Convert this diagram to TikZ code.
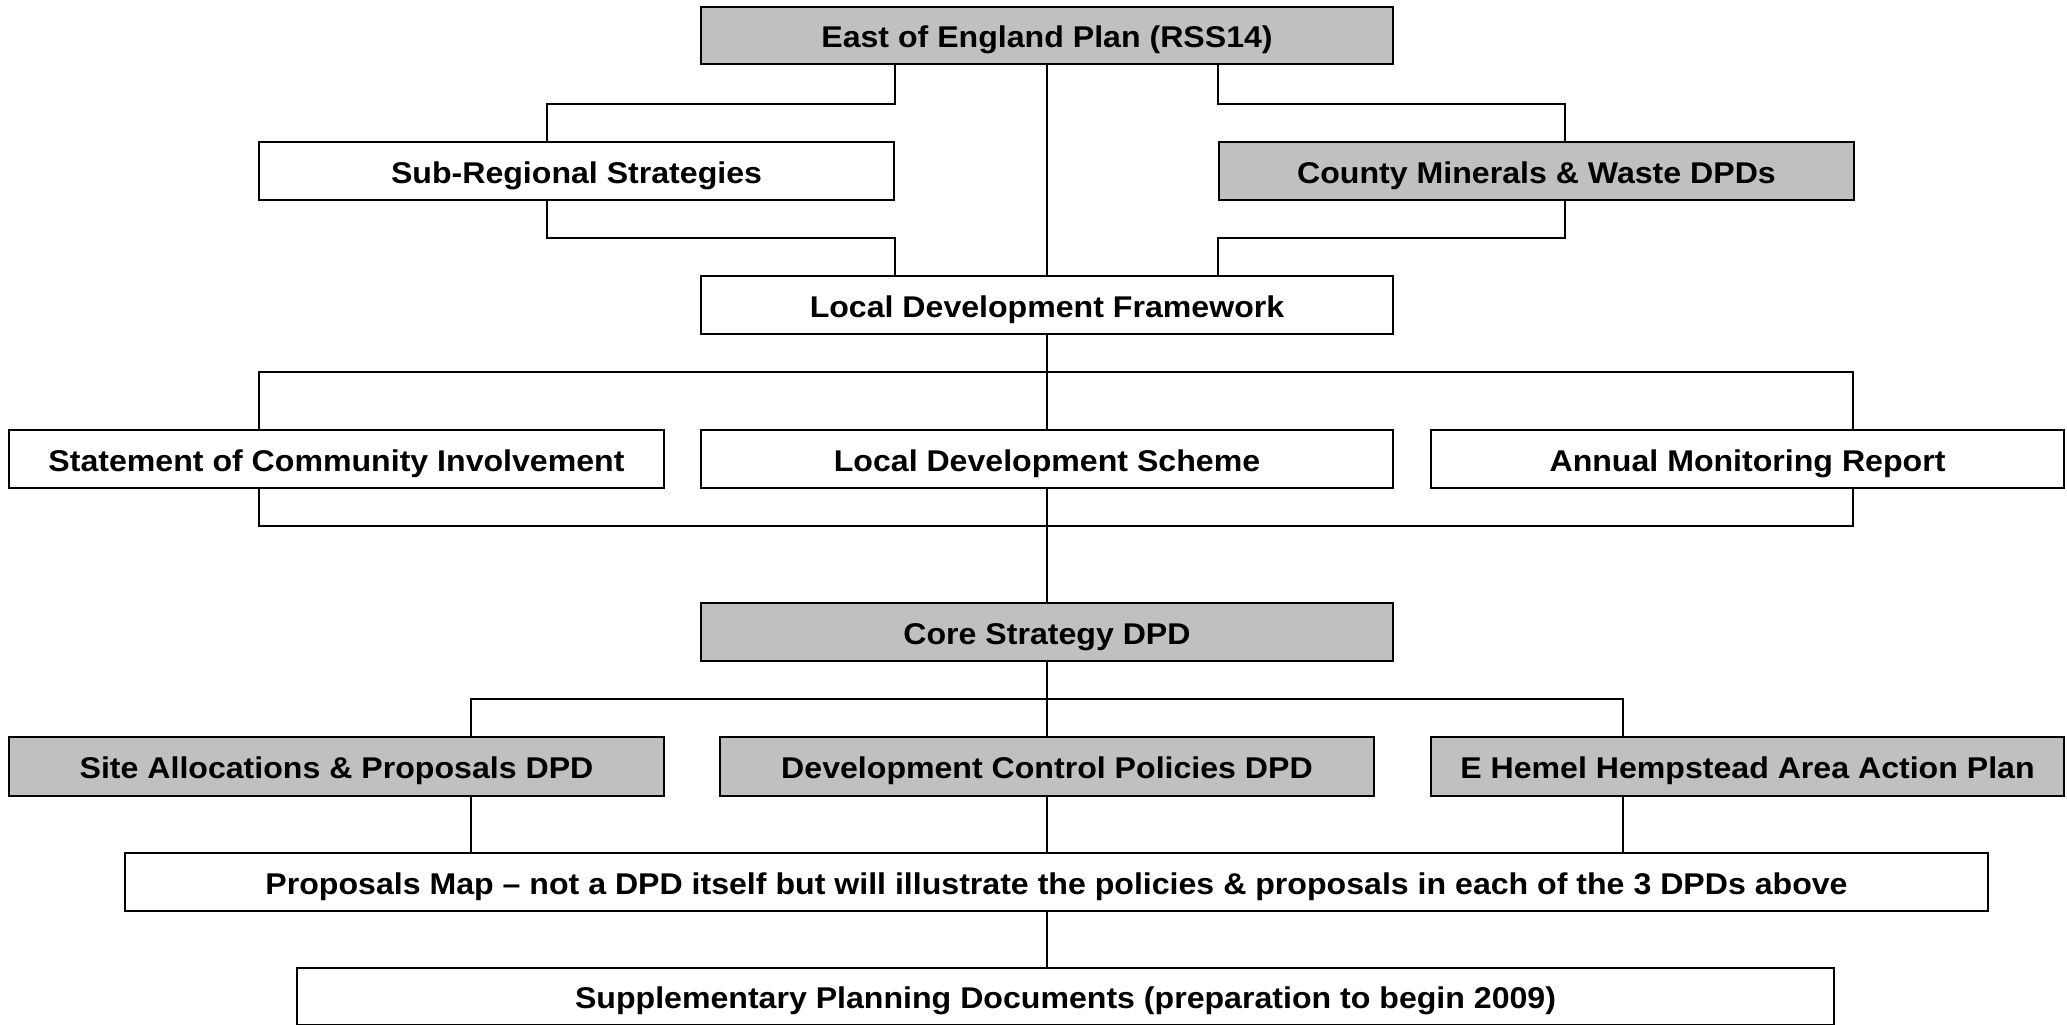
\documentclass[tikz,border=0pt]{standalone}
\usepackage{fontspec}
\setmainfont{Liberation Sans}[FakeStretch=1.07]
\usetikzlibrary{calc}
\definecolor{boxgray}{HTML}{C0C0C0}
\tikzset{
  doc/.style={draw=black, line width=2pt, fill=white, rectangle, inner sep=0pt,
    font=\fontsize{30}{36}\selectfont\bfseries, text=black,
    text height=24.5pt, text depth=0pt},
  dpd/.style={doc, fill=boxgray},
  link/.style={draw=black, line width=1.6pt},
}
\newcommand{\docbox}[7]{% style, name, left, top, right, bottom, text
  \node[#1, minimum width={#5-#3}, minimum height={#6-#4}]
    (#2) at ({(#3+#5)/2},{(#4+#6)/2}) {#7};}
\begin{document}
\begin{tikzpicture}[x=1pt, y=-1pt]
\useasboundingbox (0,0) rectangle (2067,1025);

% documents
\docbox{dpd}{east}{701}{7}{1393}{64}{East of England Plan (RSS14)}
\docbox{doc}{sub}{259}{142}{894}{200}{Sub-Regional Strategies}
\docbox{dpd}{county}{1219}{142}{1854}{200}{County Minerals \& Waste DPDs}
\docbox{doc}{ldf}{701}{276}{1393}{334}{Local Development Framework}
\docbox{doc}{sci}{9}{430}{664}{488}{Statement of Community Involvement}
\docbox{doc}{lds}{701}{430}{1393}{488}{Local Development Scheme}
\docbox{doc}{amr}{1431}{430}{2064}{488}{Annual Monitoring Report}
\docbox{dpd}{core}{701}{603}{1393}{661}{Core Strategy DPD}
\docbox{dpd}{site}{9}{737}{664}{796}{Site Allocations \& Proposals DPD}
\docbox{dpd}{dcp}{720}{737}{1374}{796}{Development Control Policies DPD}
\docbox{dpd}{ehh}{1431}{737}{2064}{796}{E Hemel Hempstead Area Action Plan}
\docbox{doc}{pm}{125}{853}{1988}{911}{Proposals Map -- not a DPD itself but will illustrate the policies \& proposals in each of the 3 DPDs above}
\docbox{doc}{spd}{297}{968}{1834}{1025}{Supplementary Planning Documents (preparation to begin 2009)}

% routing points
\coordinate (subtop) at (547,104);
\coordinate (subbot) at (547,238);
\coordinate (cnttop) at (1565,104);
\coordinate (cntbot) at (1565,238);
\coordinate (busA) at (259,372);
\coordinate (busB) at (1853,372);
\coordinate (busC) at (259,526);
\coordinate (busD) at (1853,526);
\coordinate (busE) at (471,699);
\coordinate (busF) at (1623,699);

% regional tier
\draw[link] (east.south -| sub.east) |- (subtop) -- (subtop |- sub.north);
\draw[link] (subtop |- sub.south) -- (subbot) -| (ldf.north -| sub.east);
\draw[link] (east.south -| county.west) |- (cnttop) -- (cnttop |- county.north);
\draw[link] (cnttop |- county.south) -- (cntbot) -| (ldf.north -| county.west);
\draw[link] (east.south) -- (ldf.north);

% framework documents
\draw[link] (ldf.south) -- (lds.north);
\draw[link] (busA |- sci.north) -- (busA) -- (busB) -- (busB |- amr.north);
\draw[link] (busC |- sci.south) -- (busC) -- (busD) -- (busD |- amr.south);
\draw[link] (lds.south) -- (core.north);

% development plan documents
\draw[link] (core.south) -- (dcp.north);
\draw[link] (busE |- site.north) -- (busE) -- (busF) -- (busF |- ehh.north);
\draw[link] (busE |- site.south) -- (busE |- pm.north);
\draw[link] (dcp.south) -- (dcp.south |- pm.north);
\draw[link] (busF |- ehh.south) -- (busF |- pm.north);
\draw[link] (pm.south -| dcp.south) -- (spd.north -| dcp.south);
\end{tikzpicture}
\end{document}
